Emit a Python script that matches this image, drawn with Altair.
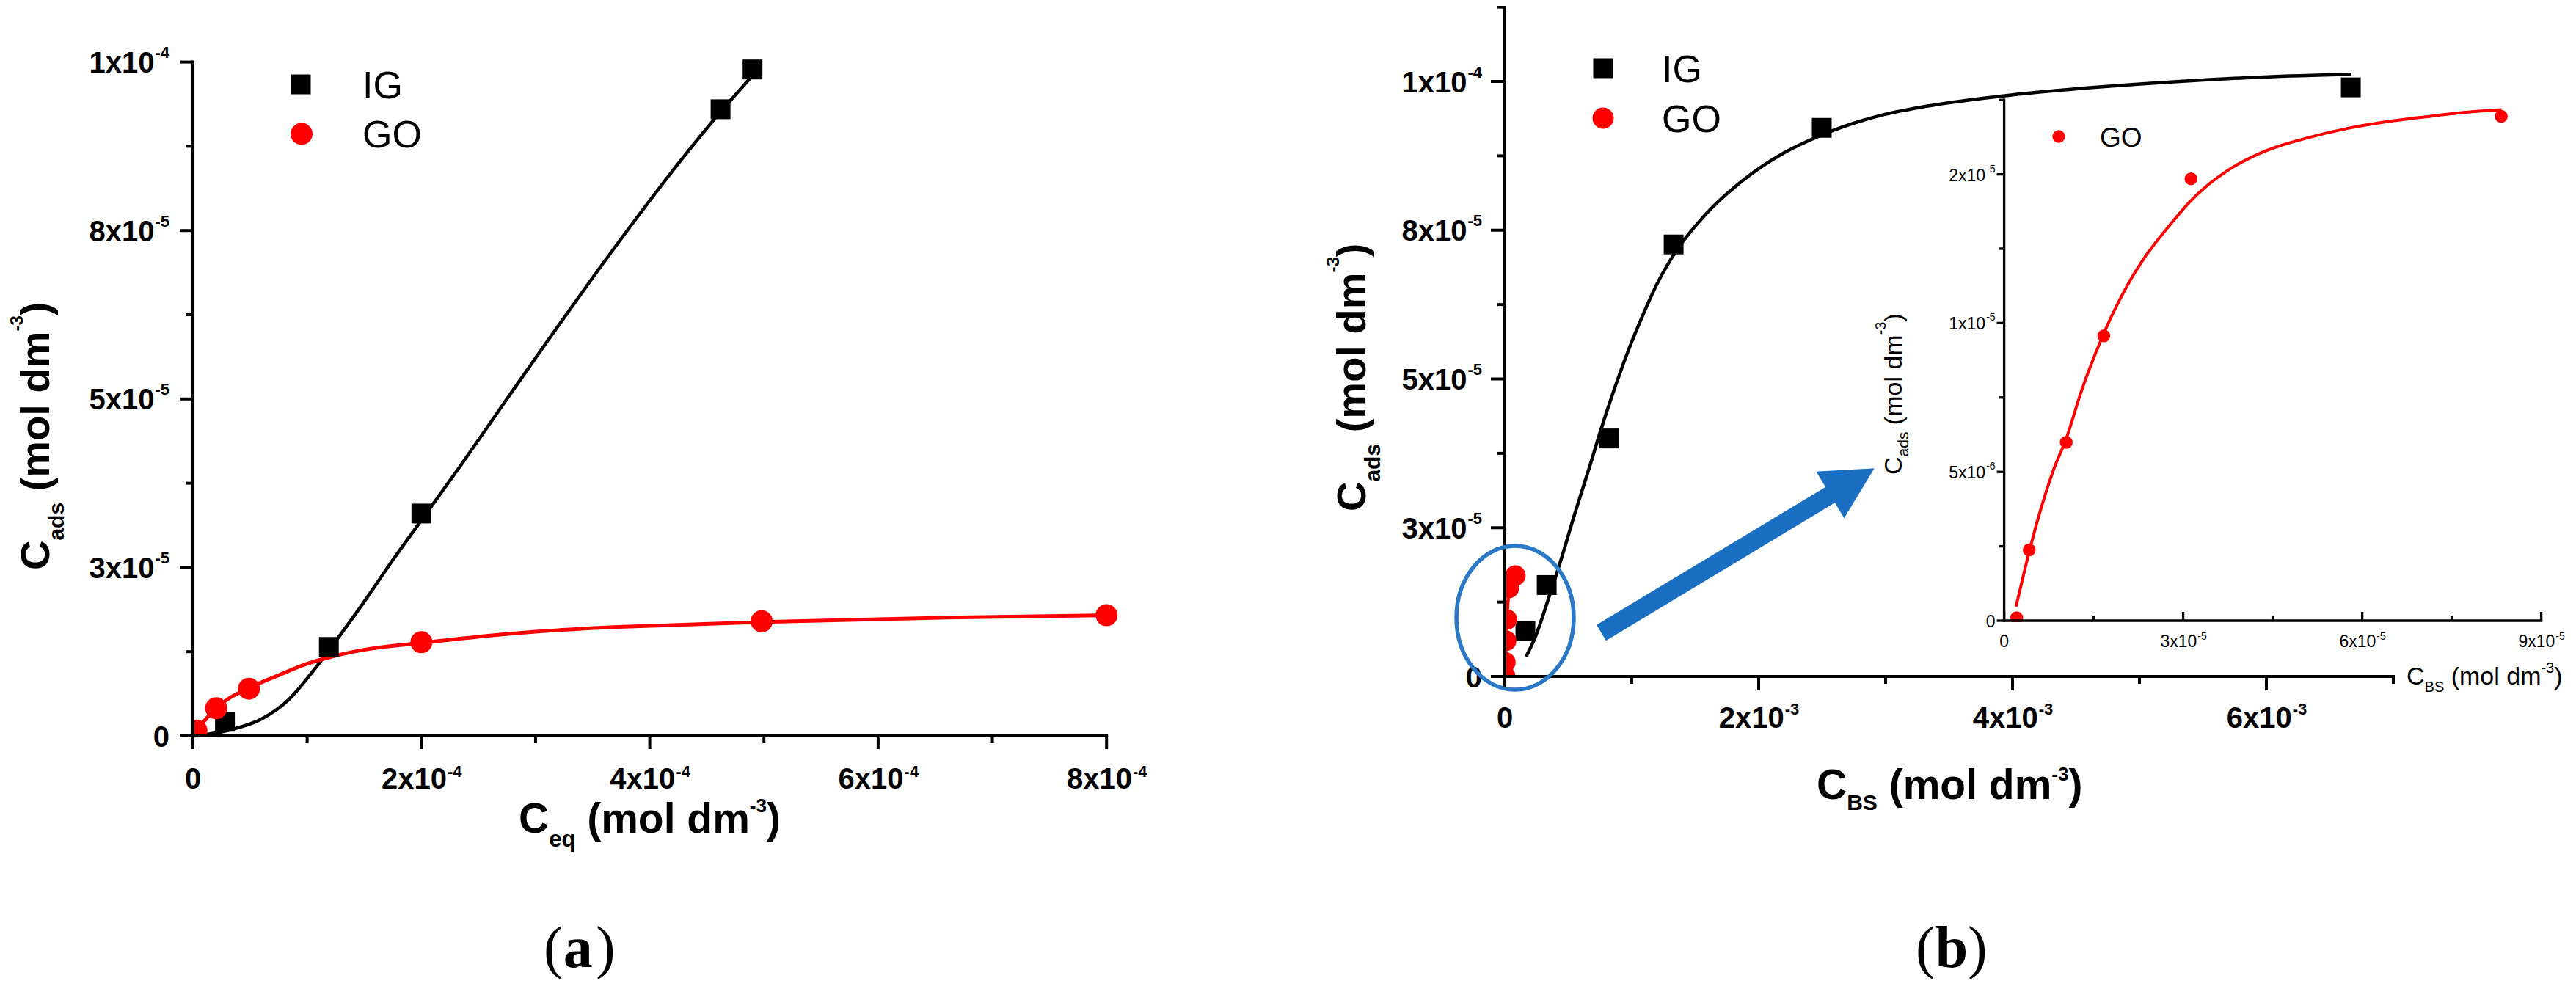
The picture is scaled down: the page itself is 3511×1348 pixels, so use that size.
import altair as alt
import pandas as pd

# ================= DATA =================
# ---- Panel (a): C_ads vs C_eq ----
A_IG_X = [2.8e-5, 1.19e-4, 2.0e-4, 4.62e-4, 4.9e-4]
A_IG_Y = [2.1e-6, 1.32e-5, 3.3e-5, 9.3e-5, 9.89e-5]
A_GO_X = [3.0e-6, 2.03e-5, 4.9e-5, 2.0e-4, 4.98e-4, 8.0e-4]
A_GO_Y = [8.0e-7, 4.1e-6, 7.0e-6, 1.39e-5, 1.70e-5, 1.79e-5]
A_IG_FIT_X = [3.0e-6, 3.2e-5, 6.0e-5, 8.4e-5, 1.06e-4, 1.19e-4, 1.47e-4, 1.75e-4, 2.0e-4,
              2.33e-4, 2.7e-4, 3.1e-4, 3.5e-4, 3.9e-4, 4.3e-4, 4.62e-4, 4.9e-4]
A_IG_FIT_Y = [0.0, 8.7e-7, 2.5e-6, 5.4e-6, 9.8e-6, 1.27e-5, 1.92e-5, 2.61e-5, 3.2e-5,
              3.98e-5, 4.88e-5, 5.85e-5, 6.8e-5, 7.72e-5, 8.6e-5, 9.26e-5, 9.8e-5]
A_GO_FIT_X = [0.0, 2.0e-5, 4.9e-5, 7.5e-5, 1.0e-4, 1.18e-4, 1.47e-4, 2.0e-4, 2.8e-4,
              3.4e-4, 4.2e-4, 5.0e-4, 6.6e-4, 8.0e-4]
A_GO_FIT_Y = [1.0e-7, 4.1e-6, 7.1e-6, 9.0e-6, 1.07e-5, 1.16e-5, 1.27e-5, 1.38e-5, 1.52e-5,
              1.59e-5, 1.645e-5, 1.69e-5, 1.755e-5, 1.79e-5]

# ---- Panel (b): C_ads vs C_BS (main) ----
B_IG_X = [1.62e-4, 3.3e-4, 8.2e-4, 1.33e-3, 2.497e-3, 6.665e-3]
B_IG_Y = [7.6e-6, 1.536e-5, 4.0e-5, 7.26e-5, 9.22e-5, 9.90e-5]
B_IG_FIT_X = [1.68e-4, 2.4e-4, 3.43e-4, 4.34e-4, 5.49e-4, 6.79e-4, 7.5e-4, 8.5e-4, 9.77e-4,
              1.093e-3, 1.2e-3, 1.35e-3, 1.575e-3, 1.884e-3, 2.2e-3, 2.497e-3, 3.0e-3, 3.312e-3,
              3.98e-3, 4.647e-3, 5.315e-3, 5.983e-3, 6.67e-3]
B_IG_FIT_Y = [3.33e-6, 6.6e-6, 1.30e-5, 1.90e-5, 2.72e-5, 3.60e-5, 4.10e-5, 4.75e-5, 5.5e-5,
              6.1e-5, 6.6e-5, 7.15e-5, 7.75e-5, 8.35e-5, 8.8e-5, 9.1e-5, 9.45e-5, 9.58e-5,
              9.77e-5, 9.9e-5, 1.0e-4, 1.0075e-4, 1.012e-4]
# GO data (shown in the main panel near x=0 and in the inset)
B_GO_X = [2.1e-6, 4.2e-6, 1.04e-5, 1.67e-5, 3.13e-5, 8.33e-5]
B_GO_Y = [1.0e-7, 2.38e-6, 5.99e-6, 9.57e-6, 1.485e-5, 1.695e-5]
B_GO_FIT_X = [1.98e-6, 3.47e-6, 5.5e-6, 8.2e-6, 1.043e-5, 1.292e-5, 1.671e-5, 2.035e-5, 2.373e-5,
              2.778e-5, 3.122e-5, 3.45e-5, 3.723e-5, 4.398e-5, 5.073e-5, 5.748e-5, 6.423e-5,
              7.1e-5, 7.774e-5, 8.335e-5]
B_GO_FIT_Y = [4.7e-7, 1.726e-6, 3.30e-6, 5.03e-6, 6.13e-6, 7.70e-6, 9.66e-6, 1.116e-5, 1.226e-5,
              1.33e-5, 1.41e-5, 1.47e-5, 1.51e-5, 1.58e-5, 1.622e-5, 1.654e-5, 1.677e-5,
              1.694e-5, 1.709e-5, 1.717e-5]

# ---- annotations in panel (b) main data units ----
ELLIPSE_C = (8.1e-5, 9.86e-6)
ARROW_TAIL = (7.60e-4, 7.34e-6)
ARROW_HEAD = (2.7376e-3, 3.275e-5)

# ---- ticks & labels ----
A_X_MAJOR = [0, 2e-4, 4e-4, 6e-4, 8e-4]
A_X_BASE = ["0", "2x10", "4x10", "6x10", "8x10"]
A_X_SUP = ["", "-4", "-4", "-4", "-4"]
A_X_MINOR = [1e-4, 3e-4, 5e-4, 7e-4]
A_Y_MAJOR = [0, 2.5e-5, 5e-5, 7.5e-5, 1e-4]
A_Y_BASE = ["0", "3x10", "5x10", "8x10", "1x10"]
A_Y_SUP = ["", "-5", "-5", "-5", "-4"]
A_Y_MINOR = [1.25e-5, 3.75e-5, 6.25e-5, 8.75e-5]

B_X_MAJOR = [0, 2e-3, 4e-3, 6e-3]
B_X_BASE = ["0", "2x10", "4x10", "6x10"]
B_X_SUP = ["", "-3", "-3", "-3"]
B_X_MINOR = [1e-3, 3e-3, 5e-3, 7e-3]
B_Y_MAJOR = [0, 2.5e-5, 5e-5, 7.5e-5, 1e-4]
B_Y_BASE = ["0", "3x10", "5x10", "8x10", "1x10"]
B_Y_SUP = ["", "-5", "-5", "-5", "-4"]
B_Y_MINOR = [1.25e-5, 3.75e-5, 6.25e-5, 8.75e-5, 1.125e-4]

I_X_MAJOR = [0, 3e-5, 6e-5, 9e-5]
I_X_BASE = ["0", "3x10", "6x10", "9x10"]
I_X_SUP = ["", "-5", "-5", "-5"]
I_X_MINOR = [1.5e-5, 4.5e-5, 7.5e-5]
I_Y_MAJOR = [0, 5e-6, 1e-5, 1.5e-5]
I_Y_BASE = ["0", "5x10", "1x10", "2x10"]
I_Y_SUP = ["", "-6", "-5", "-5"]
I_Y_MINOR = [2.5e-6, 7.5e-6, 1.25e-5, 1.75e-5]

# ================= STYLE / LAYOUT =================
SANS = "Liberation Sans"
SERIF = "Liberation Serif"
OFF = 8
RED = "#ff0000"
BLACK = "#000000"
BLUE = "#1b6fc2"
BLUE2 = "#2a78c6"

REG = {' ': 278, '(': 333, ')': 333, '-': 333, 'B': 667, 'C': 722, 'S': 667, 'G': 778, 'I': 278,
       'O': 778, 'a': 556, 'd': 556, 'e': 556, 'l': 222, 'm': 833, 'o': 556, 'q': 556, 's': 500,
       'x': 500, 'b': 500}
BLD = {' ': 278, '(': 333, ')': 333, '-': 333, 'B': 722, 'C': 722, 'S': 667, 'a': 556, 'd': 611,
       'e': 556, 'l': 278, 'm': 889, 'o': 611, 'q': 611, 's': 556, 'x': 556, 'b': 556}


def tw(s, size, bold):
    t = BLD if bold else REG
    return sum(t.get(c, 556) for c in s) * size / 1000.0


def S(domain, r0, r1):
    return alt.Scale(domain=domain, range=[r0 - OFF, r1 - OFF], nice=False, zero=False)


SAX = S([0, 8e-4], 263, 1508.2)
SAY = S([0, 1e-4], 1003, 84.6)
SBX = S([0, 7e-3], 2051, 3262)
SBY = S([0, 1.125e-4], 922, 922 - 4.5 * 202.75)
SIX = S([0, 9e-5], 2731.6, 3463.6)
SIY = S([0, 1.75e-5], 846, 846 - 3.5 * 202.8)


def X(f, s):
    return alt.X(f"{f}:Q", scale=s, axis=None)


def Y(f, s):
    return alt.Y(f"{f}:Q", scale=s, axis=None)


ONE = pd.DataFrame({"k": [0]})


def points(xs, ys, sx, sy, shape, size, color):
    df = pd.DataFrame({"x": xs, "y": ys})
    return alt.Chart(df).mark_point(shape=shape, size=size, filled=True, color=color,
                                    opacity=1, strokeWidth=0).encode(x=X("x", sx), y=Y("y", sy))


def curve(xs, ys, sx, sy, color, width):
    df = pd.DataFrame({"x": xs, "y": ys, "o": list(range(len(xs)))})
    return alt.Chart(df).mark_line(color=color, strokeWidth=width, interpolate="monotone").encode(
        x=X("x", sx), y=Y("y", sy), order="o:Q")


def axes(sx, sy, xmax, ymax, xmaj, xmin, ymaj, ymin, lw, xL, xl, yL, yl, xdir=1):
    out = []
    d = pd.DataFrame({"a": [0.0], "b": [xmax], "c": [ymax], "z": [0.0]})
    out.append(alt.Chart(d).mark_rule(color=BLACK, strokeWidth=lw, strokeCap="square").encode(
        x=X("a", sx), x2="b", y=Y("z", sy)))
    out.append(alt.Chart(d).mark_rule(color=BLACK, strokeWidth=lw, strokeCap="square").encode(
        x=X("z", sx), y=Y("a", sy), y2="c"))
    for vals, L in ((xmaj, xL), (xmin, xl)):
        df = pd.DataFrame({"v": vals, "z": 0.0})
        out.append(alt.Chart(df).mark_rule(color=BLACK, strokeWidth=lw, y2Offset=xdir * L).encode(
            x=X("v", sx), y=Y("z", sy), y2="z"))
    for vals, L in ((ymaj, yL), (ymin, yl)):
        df = pd.DataFrame({"v": vals, "z": 0.0})
        out.append(alt.Chart(df).mark_rule(color=BLACK, strokeWidth=lw, x2Offset=-L).encode(
            y=Y("v", sy), x=X("z", sx), x2="z"))
    return out


def xlabels(major, bases, sups, sx, sy, size, ssize, bold, dyb, dys):
    w = "bold" if bold else "normal"
    rows = [(v, b, s) for v, b, s in zip(major, bases, sups) if s]
    zeros = [(v, b) for v, b, s in zip(major, bases, sups) if not s]
    wb = tw(rows[0][1], size, bold)
    ws = tw(rows[0][2], ssize, bold)
    anchor = (wb - ws) / 2.0
    df = pd.DataFrame({"v": [r[0] for r in rows], "b": [r[1] for r in rows],
                       "s": [r[2] for r in rows], "z": 0.0})
    out = [
        alt.Chart(df).mark_text(align="right", baseline="alphabetic", dx=anchor, dy=dyb, fontSize=size,
                                fontWeight=w, font=SANS, color=BLACK).encode(
            x=X("v", sx), y=Y("z", sy), text="b:N"),
        alt.Chart(df).mark_text(align="left", baseline="alphabetic", dx=anchor + 1, dy=dys, fontSize=ssize,
                                fontWeight=w, font=SANS, color=BLACK).encode(
            x=X("v", sx), y=Y("z", sy), text="s:N"),
    ]
    if zeros:
        dz = pd.DataFrame({"v": [z[0] for z in zeros], "b": [z[1] for z in zeros], "z": 0.0})
        out.append(alt.Chart(dz).mark_text(align="center", baseline="alphabetic", dy=dyb, fontSize=size,
                                           fontWeight=w, font=SANS, color=BLACK).encode(
            x=X("v", sx), y=Y("z", sy), text="b:N"))
    return out


def ylabels(major, bases, sups, sx, sy, size, ssize, bold, pad, dyb, dys):
    w = "bold" if bold else "normal"
    rows = [(v, b, s) for v, b, s in zip(major, bases, sups) if s]
    zeros = [(v, b) for v, b, s in zip(major, bases, sups) if not s]
    ws = tw(rows[0][2], ssize, bold)
    df = pd.DataFrame({"v": [r[0] for r in rows], "b": [r[1] for r in rows],
                       "s": [r[2] for r in rows], "z": 0.0})
    out = [
        alt.Chart(df).mark_text(align="right", baseline="alphabetic", dx=-(pad + ws + 1), dy=dyb,
                                fontSize=size, fontWeight=w, font=SANS, color=BLACK).encode(
            x=X("z", sx), y=Y("v", sy), text="b:N"),
        alt.Chart(df).mark_text(align="right", baseline="alphabetic", dx=-pad, dy=dys,
                                fontSize=ssize, fontWeight=w, font=SANS, color=BLACK).encode(
            x=X("z", sx), y=Y("v", sy), text="s:N"),
    ]
    if zeros:
        dz = pd.DataFrame({"v": [z[0] for z in zeros], "b": [z[1] for z in zeros], "z": 0.0})
        out.append(alt.Chart(dz).mark_text(align="right", baseline="alphabetic", dx=-pad, dy=dyb,
                                           fontSize=size, fontWeight=w, font=SANS, color=BLACK).encode(
            x=X("z", sx), y=Y("v", sy), text="b:N"))
    return out


def txt(text, x, y, size, weight="normal", align="left", angle=0, font=SANS, color=BLACK):
    return alt.Chart(ONE).mark_text(text=text, fontSize=size, fontWeight=weight, align=align,
                                    baseline="alphabetic", angle=angle, font=font, color=color).encode(
        x=alt.value(x - OFF), y=alt.value(y - OFF))


def rich(pieces, x0, y0, vertical=False, font=SANS):
    """pieces: (text, size, bold, down_shift, gap_before)"""
    out = []
    pos = 0.0
    for text, size, bold, down, gap in pieces:
        pos += gap
        if vertical:
            x, y, ang = x0 + down, y0 - pos, 270
        else:
            x, y, ang = x0 + pos, y0 + down, 0
        out.append(txt(text, x, y, size, "bold" if bold else "normal", "left", ang, font))
        pos += tw(text, size, bold)
    return out


def mask(x0, x1, y0, y1):
    return alt.Chart(ONE).mark_rect(color="white", opacity=1).encode(
        x=alt.value(x0 - OFF), x2=alt.value(x1 - OFF), y=alt.value(y0 - OFF), y2=alt.value(y1 - OFF))


def legend_marker(shape, x, y, size, color):
    return alt.Chart(ONE).mark_point(shape=shape, size=size, filled=True, color=color, opacity=1,
                                     strokeWidth=0).encode(x=alt.value(x - OFF), y=alt.value(y - OFF))


L = []

# ---------------- panel (a) data ----------------
L.append(curve(A_IG_FIT_X, A_IG_FIT_Y, SAX, SAY, BLACK, 4.5))
L.append(curve(A_GO_FIT_X, A_GO_FIT_Y, SAX, SAY, RED, 5))
L.append(points(A_IG_X, A_IG_Y, SAX, SAY, "square", 729, BLACK))
L.append(points(A_GO_X, A_GO_Y, SAX, SAY, "circle", 900, RED))

# ---------------- panel (b) data ----------------
L.append(curve(B_IG_FIT_X, B_IG_FIT_Y, SBX, SBY, BLACK, 4.5))
L.append(points(B_IG_X, B_IG_Y, SBX, SBY, "square", 729, BLACK))
L.append(curve(B_GO_FIT_X, B_GO_FIT_Y, SBX, SBY, RED, 4.5))
L.append(points(B_GO_X, B_GO_Y, SBX, SBY, "circle", 784, RED))
# inset
L.append(curve(B_GO_FIT_X, B_GO_FIT_Y, SIX, SIY, RED, 4))
L.append(points(B_GO_X, B_GO_Y, SIX, SIY, "circle", 306, RED))

# masks (clip marks at the axes)
L.append(mask(236, 261, 950, 1003))
L.append(mask(236, 310, 1005, 1030))
L.append(mask(2028, 2049, 740, 922))
L.append(mask(2028, 2100, 924, 945))
L.append(mask(2733, 2770, 848, 860))

# ---------------- axes ----------------
L += axes(SAX, SAY, 8e-4, 1e-4, A_X_MAJOR, A_X_MINOR, A_Y_MAJOR, A_Y_MINOR, 4, 18, 10, 18, 10)
L += xlabels(A_X_MAJOR, A_X_BASE, A_X_SUP, SAX, SAY, 40, 22, True, 72, 56)
L += ylabels(A_Y_MAJOR, A_Y_BASE, A_Y_SUP, SAX, SAY, 40, 22, True, 32, 14.5, -5.5)

L += axes(SBX, SBY, 7e-3, 1.125e-4, B_X_MAJOR, B_X_MINOR, B_Y_MAJOR, B_Y_MINOR, 4, 19, 10, 19, 10)
L += xlabels(B_X_MAJOR, B_X_BASE, B_X_SUP, SBX, SBY, 40, 22, True, 70, 52)
L += ylabels(B_Y_MAJOR, B_Y_BASE, B_Y_SUP, SBX, SBY, 40, 22, True, 31, 14.5, -5.5)

L += axes(SIX, SIY, 9e-5, 1.75e-5, I_X_MAJOR, I_X_MINOR, I_Y_MAJOR, I_Y_MINOR, 3.3, 12, 7, 10, 7, xdir=-1)
L += xlabels(I_X_MAJOR, I_X_BASE, I_X_SUP, SIX, SIY, 23, 14, False, 36, 26)
L += ylabels(I_Y_MAJOR, I_Y_BASE, I_Y_SUP, SIX, SIY, 23, 14, False, 12, 9, -3)

# ---------------- annotations (ellipse + arrow) in panel (b) units ----------------
A_, B_ = 0.816, 1.0
ka, kb = 0.5523 * A_, 0.5523 * B_
ELLIPSE_PATH = (f"M {A_} 0 C {A_} {kb} {ka} {B_} 0 {B_} C {-ka} {B_} {-A_} {kb} {-A_} 0 "
                f"C {-A_} {-kb} {-ka} {-B_} 0 {-B_} C {ka} {-B_} {A_} {-kb} {A_} 0 Z")
ell = pd.DataFrame({"x": [ELLIPSE_C[0]], "y": [ELLIPSE_C[1]]})
L.append(alt.Chart(ell).mark_point(shape=ELLIPSE_PATH, size=196 ** 2, filled=False, color=BLUE2,
                                   strokeWidth=5.5, opacity=1).encode(x=X("x", SBX), y=Y("y", SBY)))
arr = pd.DataFrame({"x": [ARROW_TAIL[0]], "x2": [ARROW_HEAD[0]],
                    "y": [ARROW_TAIL[1]], "y2": [ARROW_HEAD[1]]})
L.append(alt.Chart(arr).mark_rule(color=BLUE, strokeWidth=25, strokeCap="butt").encode(
    x=X("x", SBX), x2="x2", y=Y("y", SBY), y2="y2"))
head = pd.DataFrame({"x": [ARROW_HEAD[0]], "y": [ARROW_HEAD[1]]})
L.append(alt.Chart(head).mark_point(shape="M 0 -0.95 L 1 0.95 L -1 0.95 Z", size=74 ** 2, angle=59,
                                    filled=True, color=BLUE, opacity=1, strokeWidth=0).encode(
    x=X("x", SBX), y=Y("y", SBY)))

# ---------------- legends ----------------
L.append(legend_marker("square", 410, 115, 729, BLACK))
L.append(legend_marker("circle", 411, 182.5, 900, RED))
L.append(txt("IG", 494, 134, 52))
L.append(txt("GO", 494, 201, 52))
L.append(legend_marker("square", 2185, 93, 729, BLACK))
L.append(legend_marker("circle", 2185, 161, 840, RED))
L.append(txt("IG", 2265, 111.5, 52))
L.append(txt("GO", 2265, 179.5, 52))
L.append(legend_marker("circle", 2806, 186, 300, RED))
L.append(txt("GO", 2862, 200, 37))

# ---------------- axis titles ----------------
SP57 = tw(" ", 57, True)
SP56 = tw(" ", 56, True)
SP34 = tw(" ", 34, False)
L += rich([("C", 56, True, 0, 0), ("ads", 30, True, 20, 0), ("(mol dm", 56, True, 0, SP56),
           ("-3", 24, True, -36, 0), (")", 56, True, 0, 0)], 67, 777, vertical=True)
L += rich([("C", 57, True, 0, 0), ("eq", 31, True, 18.5, 0), ("(mol dm", 57, True, 0, SP57),
           ("-3", 26, True, -28, 0), (")", 57, True, 0, 0)], 707, 1135)
L += rich([("C", 56, True, 0, 0), ("ads", 30, True, 20, 0), ("(mol dm", 56, True, 0, SP56),
           ("-3", 24, True, -36, 0), (")", 56, True, 0, 0)], 1861, 697, vertical=True)
L += rich([("C", 57, True, 0, 0), ("BS", 30, True, 15, 0), ("(mol dm", 57, True, 0, SP57),
           ("-3", 26, True, -25, 0), (")", 57, True, 0, 0)], 2476, 1089)
L += rich([("C", 34, False, 0, 0), ("ads", 21, False, 9, 0), ("(mol dm", 34, False, 0, SP34),
           ("-3", 20, False, -22, 0), (")", 34, False, 0, 0)], 2592, 647, vertical=True)
L += rich([("C", 34, False, 0, 0), ("BS", 20, False, 10, 0), ("(mol dm", 34, False, 0, SP34),
           ("-3", 20, False, -16, 0), (")", 34, False, 0, 0)], 3280, 933)

# ---------------- panel labels ----------------
L += rich([("(", 80, False, 0, 0), ("a", 80, True, 0, 0), (")", 80, False, 0, 0)], 741, 1318, font=SERIF)
L += rich([("(", 80, False, 0, 0), ("b", 80, True, 0, 0), (")", 80, False, 0, 0)], 2611, 1318, font=SERIF)

chart = alt.layer(*L).resolve_scale(x="independent", y="independent").properties(
    width=3495, height=1332, autosize=alt.AutoSizeParams(type="none"), padding=0
).configure_view(stroke=None)

chart.save("out.html", embed_options={"renderer": "svg", "actions": False})
